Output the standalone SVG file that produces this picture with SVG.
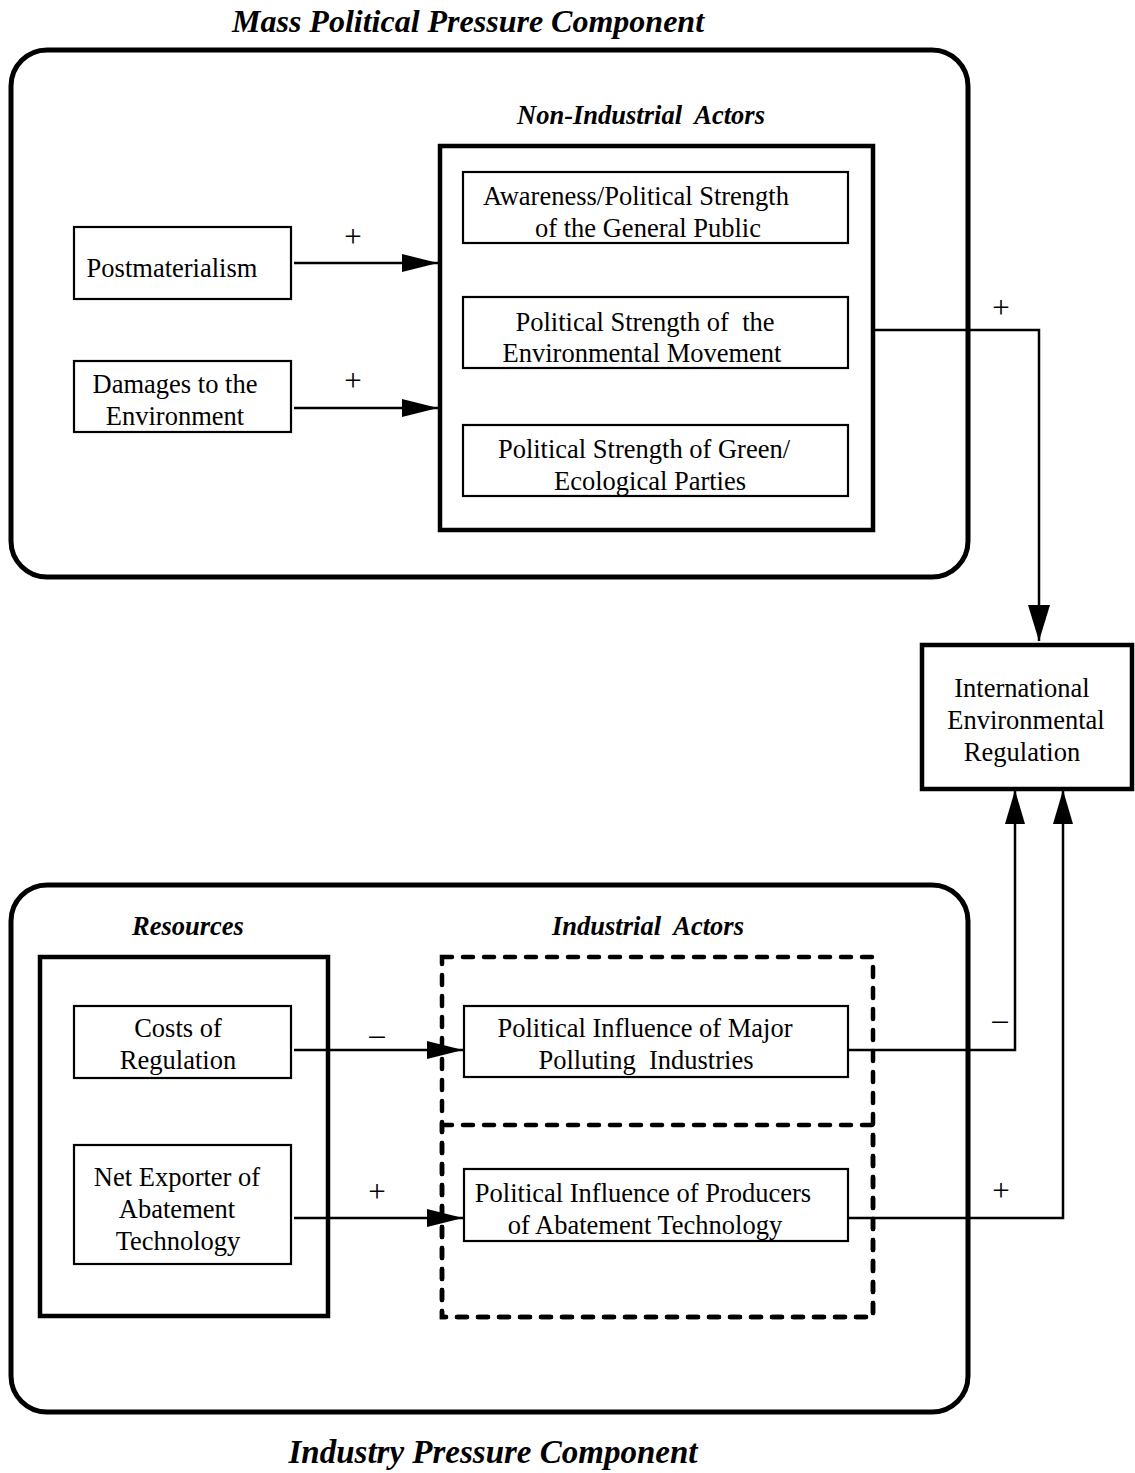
<svg xmlns="http://www.w3.org/2000/svg" width="1135" height="1473" viewBox="0 0 1135 1473">
  <style>
    .txt { font-family: "Liberation Serif", "Times New Roman", serif; font-size: 26.5px; fill: #000; text-anchor: middle; white-space: pre; }
    .head { font-family: "Liberation Serif", "Times New Roman", serif; font-weight: bold; font-style: italic; font-size: 26.5px; fill: #000; text-anchor: middle; white-space: pre; }
    .title { font-family: "Liberation Serif", "Times New Roman", serif; font-weight: bold; font-style: italic; font-size: 32px; fill: #000; text-anchor: middle; }
    .sign { font-family: "Liberation Serif", "Times New Roman", serif; font-size: 31px; fill: #000; text-anchor: middle; }
    .container { fill: none; stroke: #000; stroke-width: 5; }
    .group { fill: none; stroke: #000; stroke-width: 4.5; }
    .dashed { fill: none; stroke: #000; stroke-width: 4.5; stroke-dasharray: 10 11; stroke-linecap: round; }
    .box { fill: #fff; stroke: #000; stroke-width: 2.2; }
    .link { fill: none; stroke: #000; stroke-width: 2.5; }
  </style>
  <defs>
    <marker id="arrowH" markerUnits="userSpaceOnUse" markerWidth="36" markerHeight="18" refX="36" refY="9" orient="auto">
      <path d="M0,0 L36,9 L0,18 z" fill="#000"/>
    </marker>
    <marker id="arrowV" markerUnits="userSpaceOnUse" markerWidth="36" markerHeight="22" refX="36" refY="11" orient="auto">
      <path d="M0,0 L36,11 L0,22 z" fill="#000"/>
    </marker>
    <marker id="arrowUp" markerUnits="userSpaceOnUse" markerWidth="34" markerHeight="20" refX="34" refY="10" orient="auto">
      <path d="M0,0 L34,10 L0,20 z" fill="#000"/>
    </marker>
  </defs>

  <!-- component titles -->
  <text class="title" x="468" y="32">Mass Political Pressure Component</text>
  <text class="title" x="493" y="1463" style="font-size:33px">Industry Pressure Component</text>

  <!-- mass political pressure component -->
  <g id="mass-component">
    <rect class="container" x="11" y="50" width="957" height="527" rx="36" ry="36"/>
  </g>
  <g id="non-industrial-actors">
    <text class="head" x="641" y="124">Non-Industrial  Actors</text>
    <rect class="group" x="440" y="146" width="433" height="384"/>
  </g>
  <g id="postmaterialism">
    <rect class="box" x="74" y="227" width="217" height="72"/>
    <text class="txt" x="172" y="277">Postmaterialism</text>
  </g>
  <g id="damages">
    <rect class="box" x="74" y="361" width="217" height="71"/>
    <text class="txt" x="175" y="393">Damages to the</text>
    <text class="txt" x="175" y="425">Environment</text>
  </g>
  <g id="public-awareness">
    <rect class="box" x="463" y="172" width="385" height="71"/>
    <text class="txt" x="636" y="205">Awareness/Political Strength</text>
    <text class="txt" x="648" y="237">of the General Public</text>
  </g>
  <g id="environmental-movement">
    <rect class="box" x="463" y="297" width="385" height="71"/>
    <text class="txt" x="645" y="331">Political Strength of  the</text>
    <text class="txt" x="642" y="362">Environmental Movement</text>
  </g>
  <g id="green-parties">
    <rect class="box" x="463" y="425" width="385" height="71"/>
    <text class="txt" x="644" y="458">Political Strength of Green/</text>
    <text class="txt" x="650" y="490">Ecological Parties</text>
  </g>

  <!-- outcome -->
  <g id="international-regulation">
    <rect class="group" x="922" y="645" width="210" height="144"/>
    <text class="txt" x="1022" y="697">International</text>
    <text class="txt" x="1026" y="729">Environmental</text>
    <text class="txt" x="1022" y="761">Regulation</text>
  </g>

  <!-- industry pressure component -->
  <g id="industry-component">
    <rect class="container" x="11" y="885" width="957" height="527" rx="36" ry="36"/>
  </g>
  <g id="resources">
    <text class="head" x="188" y="935">Resources</text>
    <rect class="group" x="40" y="957" width="288" height="359"/>
  </g>
  <g id="industrial-actors">
    <text class="head" x="648" y="935">Industrial  Actors</text>
    <rect class="dashed" x="442" y="957" width="431" height="360"/>
    <rect class="dashed" x="442" y="1125" width="431" height="192"/>
  </g>
  <g id="costs-of-regulation">
    <rect class="box" x="74" y="1006" width="217" height="72"/>
    <text class="txt" x="178" y="1037">Costs of</text>
    <text class="txt" x="178" y="1069">Regulation</text>
  </g>
  <g id="net-exporter">
    <rect class="box" x="74" y="1145" width="217" height="119"/>
    <text class="txt" x="177" y="1186">Net Exporter of</text>
    <text class="txt" x="177" y="1218">Abatement</text>
    <text class="txt" x="178" y="1250">Technology</text>
  </g>
  <g id="polluting-industries">
    <rect class="box" x="464" y="1006" width="384" height="71"/>
    <text class="txt" x="645" y="1037">Political Influence of Major</text>
    <text class="txt" x="646" y="1069">Polluting  Industries</text>
  </g>
  <g id="abatement-producers">
    <rect class="box" x="464" y="1169" width="384" height="72"/>
    <text class="txt" x="643" y="1202">Political Influence of Producers</text>
    <text class="txt" x="645" y="1234">of Abatement Technology</text>
  </g>

  <!-- causal links -->
  <g id="connectors">
    <line class="link" x1="294" y1="263" x2="438" y2="263" marker-end="url(#arrowH)"/>
    <line class="link" x1="294" y1="408" x2="438" y2="408" marker-end="url(#arrowH)"/>
    <polyline class="link" points="871,330 1039,330 1039,641" marker-end="url(#arrowV)"/>
    <line class="link" x1="294" y1="1050" x2="463" y2="1050" marker-end="url(#arrowH)"/>
    <line class="link" x1="294" y1="1218" x2="463" y2="1218" marker-end="url(#arrowH)"/>
    <polyline class="link" points="847,1050 1015,1050 1015,790" marker-end="url(#arrowUp)"/>
    <polyline class="link" points="847,1218 1063,1218 1063,790" marker-end="url(#arrowUp)"/>
    <text class="sign" x="353" y="247">+</text>
    <text class="sign" x="353" y="391">+</text>
    <text class="sign" x="1001" y="318">+</text>
    <text class="sign" x="377" y="1045">–</text>
    <text class="sign" x="377" y="1202">+</text>
    <text class="sign" x="1000" y="1030">–</text>
    <text class="sign" x="1001" y="1201">+</text>
  </g>
</svg>
